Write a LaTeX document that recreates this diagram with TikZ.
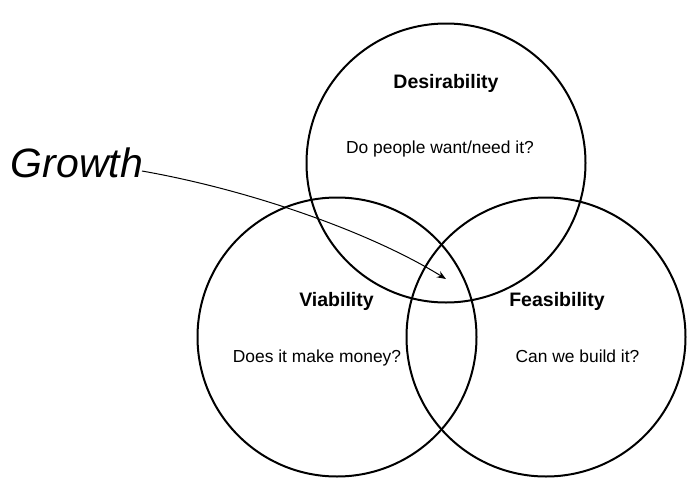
\documentclass[tikz,border=0pt]{standalone}
\usepackage{fontspec}
\setmainfont{Liberation Sans}
\usetikzlibrary{arrows.meta}
\begin{document}
\begin{tikzpicture}[x=1pt,y=-1pt,
  venn/.style={draw=black,circle,line width=2pt,minimum size=279pt,inner sep=0pt},
  ttl/.style={anchor=base,font=\fontsize{19.5}{22}\selectfont\bfseries,inner sep=0pt},
  sub/.style={anchor=base,font=\fontsize{17.4}{20}\selectfont,inner sep=0pt},
  conn/.style={line width=1pt,-{Stealth[length=9pt,width=7pt]}}]
\useasboundingbox (0,0) rectangle (694,490);
\node[venn] (des) at (446,163) {};
\node[venn] (via) at (337,337) {};
\node[venn] (fea) at (546,337) {};
\node[ttl] (desT) at (446,88) {Desirability};
\node[sub] (desS) at (440,153) {Do people want/need it?};
\node[ttl] (viaT) at (336.5,306) {Viability};
\node[sub] (viaS) at (317,362.5) {Does it make money?};
\node[ttl] (feaT) at (557,306) {Feasibility};
\node[sub] (feaS) at (577.5,362.5) {Can we build it?};
\node[anchor=base,inner sep=0pt,font=\fontsize{41}{46}\selectfont\itshape] (growth) at (77,177) {Growth};
\coordinate (gs) at (142,171);
\coordinate (ge) at (446,279);
\draw[conn] (gs) .. controls (250,190) and (370,232) .. (ge);
\end{tikzpicture}
\end{document}
